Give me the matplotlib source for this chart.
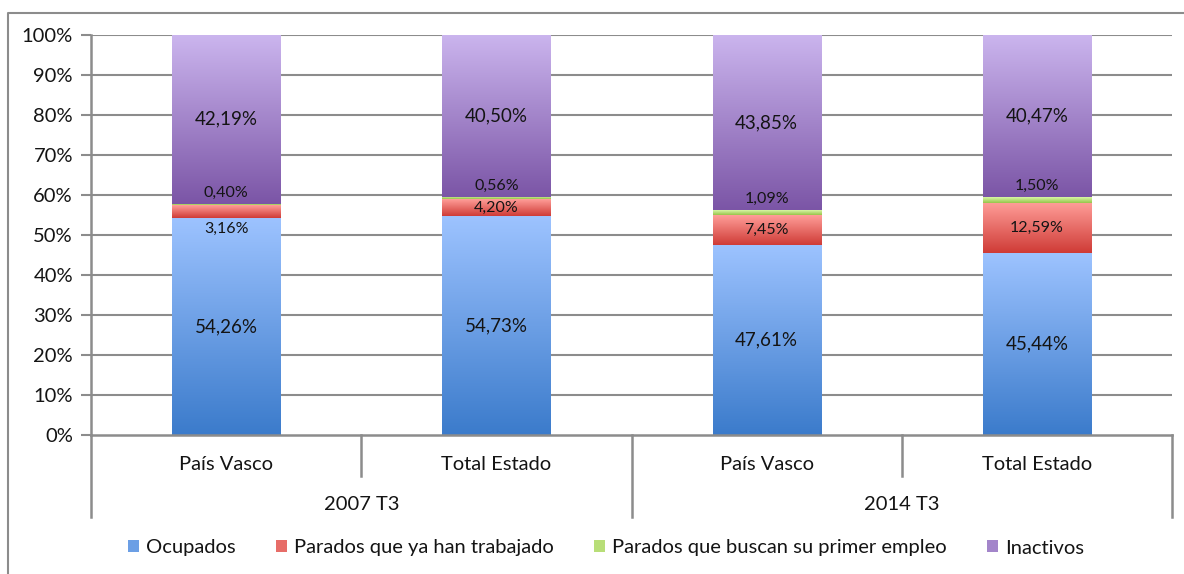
import numpy as np
import matplotlib
matplotlib.use("Agg")
import matplotlib.pyplot as plt
from matplotlib.colors import LinearSegmentedColormap, to_rgb
from matplotlib.lines import Line2D
from matplotlib.patches import Patch
import matplotlib.transforms as mtransforms

plt.rcParams['font.family'] = ['Lato', 'DejaVu Sans']

categories = ["País Vasco", "Total Estado", "País Vasco", "Total Estado"]
groups = ["2007 T3", "2014 T3"]
series_names = ["Ocupados", "Parados que ya han trabajado",
                "Parados que buscan su primer empleo", "Inactivos"]
ocupados = [54.26, 54.73, 47.61, 45.44]
parados_trabajado = [3.16, 4.20, 7.45, 12.59]
parados_primer = [0.40, 0.56, 1.09, 1.50]
inactivos = [42.19, 40.50, 43.85, 40.47]
yticks = [0, 10, 20, 30, 40, 50, 60, 70, 80, 90, 100]

# gradient colours (bottom -> top)
grads = [("#3B7BCB", "#9DC3FF"),
         ("#CF3B36", "#FF9E99"),
         ("#97C44A", "#D9F7A6"),
         ("#7B55A6", "#CBB5EE")]

W, H = 1184, 574
fig = plt.figure(figsize=(W / 100, H / 100), dpi=100)
L, R, T, B = 91, 1172, 35, 435
ax = fig.add_axes([L / W, 1 - B / H, (R - L) / W, (B - T) / H])

data = np.array([ocupados, parados_trabajado, parados_primer, inactivos])
norm = data / data.sum(axis=0) * 100
x = np.arange(len(categories))
bw = 0.4
grid_col = "#8C8C8C"
txt_col = "#141414"

for yv in yticks[1:]:
    ax.axhline(yv, color=grid_col, lw=1.5, zorder=1)

gvals = np.linspace(0, 1, 256).reshape(-1, 1)
bottoms = np.zeros(len(categories))
for s in range(4):
    cmap = LinearSegmentedColormap.from_list("g%d" % s, grads[s])
    for i in range(len(categories)):
        b0 = bottoms[i]
        b1 = b0 + norm[s, i]
        ax.imshow(gvals, extent=(x[i] - bw / 2, x[i] + bw / 2, b0, b1),
                  origin="lower", cmap=cmap, aspect="auto", zorder=2,
                  interpolation="bilinear")
        txt = ("%.2f" % data[s, i]).replace(".", ",") + "%"
        if s in (0, 3):
            ax.text(x[i], (b0 + b1) / 2, txt, ha="center", va="center",
                    fontsize=13.5, color=txt_col, zorder=5)
        elif s == 1:
            if norm[s, i] >= 4:
                ax.text(x[i], (b0 + b1) / 2, txt, ha="center", va="center",
                        fontsize=11.5, color=txt_col, zorder=5)
            else:
                ax.annotate(txt, (x[i], b0), xytext=(0, -8),
                            textcoords="offset points", ha="center", va="center",
                            fontsize=11.5, color=txt_col, zorder=5)
        else:
            ax.annotate(txt, (x[i], b1), xytext=(0, 8),
                        textcoords="offset points", ha="center", va="center",
                        fontsize=11.5, color=txt_col, zorder=5)
    bottoms = bottoms + norm[s]

ax.set_xlim(-0.5, len(categories) - 0.5)
ax.set_ylim(0, 100)
ax.set_yticks(yticks)
ax.set_yticklabels(["%d%%" % v for v in yticks], fontsize=14.5, color=txt_col)
ax.tick_params(axis="y", direction="out", length=7, width=1.5, color=grid_col, pad=6)
ax.set_xticks([])
for sp in ["top", "right"]:
    ax.spines[sp].set_visible(False)
for sp in ["left", "bottom"]:
    ax.spines[sp].set_color(grid_col)
    ax.spines[sp].set_linewidth(1.8)

# multi-level x axis
trans = mtransforms.blended_transform_factory(ax.transData, ax.transAxes)
lvl1 = -41 / 400
lvl2 = -82 / 400
for i, c in enumerate(categories):
    ax.text(x[i], -29 / 400, c, transform=trans, ha="center", va="center",
            fontsize=14.5, color=txt_col)
for k in range(len(categories) + 1):
    xb = k - 0.5
    depth = lvl2 if k % 2 == 0 else lvl1
    ax.add_line(Line2D([xb, xb], [0, depth], transform=trans, color=grid_col,
                       lw=1.8, clip_on=False))
for g, name in enumerate(groups):
    ax.text(2 * g + 0.5, -70 / 400, name, transform=trans, ha="center",
            va="center", fontsize=14.5, color=txt_col)

# legend
handles = [Patch(facecolor=(np.array(to_rgb(grads[s][0])) + np.array(to_rgb(grads[s][1]))) / 2)
           for s in range(4)]
fig.legend(handles, series_names, loc="center", bbox_to_anchor=(606 / W, 1 - 548 / H),
           ncol=4, frameon=False, fontsize=14.5, handlelength=0.55, handleheight=0.55,
           handletextpad=0.35, columnspacing=2.0, labelcolor=txt_col)

# outer frame
fig.add_artist(Line2D([8 / W, 8 / W, 1.01], [-0.01, 1 - 13 / H, 1 - 13 / H],
                      transform=fig.transFigure, color="#8C8C8C", lw=1.5))

fig.savefig("out.png", dpi=100)
